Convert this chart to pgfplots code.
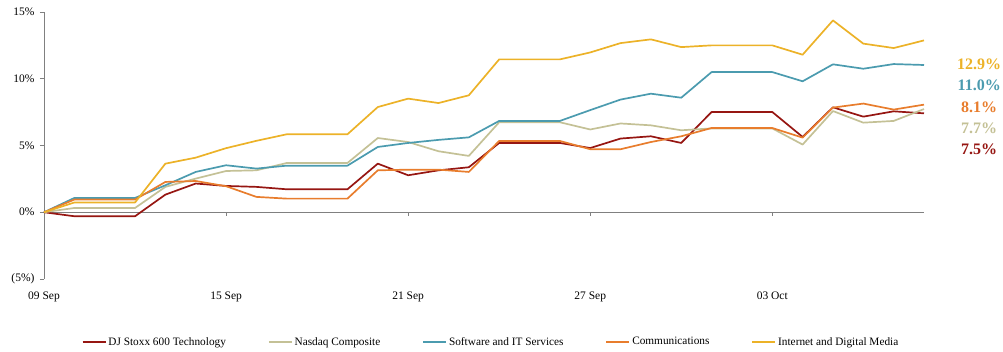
\documentclass[border=0pt]{standalone}
\usepackage{pgfplots}
\pgfplotsset{compat=1.18}
\usepackage{pgfplotstable}
\usepackage{fontspec}
\setmainfont{Liberation Serif}
\definecolor{cRed}{RGB}{150,22,18}
\definecolor{cNas}{RGB}{196,193,150}
\definecolor{cTeal}{RGB}{75,155,175}
\definecolor{cOrg}{RGB}{232,125,45}
\definecolor{cYel}{RGB}{236,178,40}
\definecolor{cAx}{RGB}{128,128,128}
\pgfplotstableread{
x red nas teal org yel
0 0 0 0 0 0
1 -0.30 0.32 1.07 0.95 0.73
2 -0.30 0.32 1.07 0.95 0.73
3 -0.30 0.32 1.07 0.95 0.73
4 1.32 1.90 2.02 2.27 3.64
5 2.15 2.52 3.02 2.34 4.09
6 1.97 3.09 3.52 1.95 4.80
7 1.90 3.14 3.27 1.15 5.35
8 1.72 3.69 3.49 1.02 5.84
9 1.72 3.69 3.49 1.02 5.84
10 1.72 3.69 3.49 1.02 5.84
11 3.64 5.56 4.89 3.14 7.88
12 2.77 5.26 5.19 3.19 8.51
13 3.14 4.57 5.42 3.19 8.18
14 3.37 4.22 5.61 3.02 8.76
15 5.19 6.74 6.84 5.34 11.45
16 5.19 6.74 6.84 5.34 11.45
17 5.19 6.74 6.84 5.34 11.45
18 4.81 6.20 7.65 4.72 11.97
19 5.52 6.65 8.44 4.72 12.67
20 5.69 6.51 8.88 5.26 12.95
21 5.19 6.14 8.58 5.69 12.37
22 7.51 6.28 10.50 6.31 12.50
23 7.51 6.28 10.50 6.31 12.50
24 7.51 6.28 10.50 6.31 12.50
25 5.64 5.07 9.81 5.59 11.80
26 7.86 7.58 11.08 7.84 14.37
27 7.16 6.71 10.75 8.14 12.63
28 7.56 6.84 11.10 7.69 12.30
29 7.41 7.73 11.03 8.06 12.87
}\data
\begin{document}
\begin{tikzpicture}
\useasboundingbox (-44pt,-73pt) rectangle (959pt,279pt);
\begin{axis}[
  at={(0,0)}, anchor=south west,
  scale only axis, width=880pt, height=267pt,
  xmin=0, xmax=29, ymin=-5, ymax=15,
  clip=false,
  axis x line*=bottom, axis y line*=left,
  x axis line style={draw=none},
  y axis line style={draw=cAx, line width=0.8pt},
  xtick={0,6,12,18,24},
  xticklabels={09 Sep,15 Sep,21 Sep,27 Sep,03 Oct},
  xtick style={draw=none},
  xticklabel style={font=\fontsize{11.5}{13}\selectfont, yshift=-5pt},
  ytick={-5,0,5,10,15},
  yticklabels={(5\%),0\%,5\%,10\%,15\%},
  yticklabel style={font=\fontsize{11.5}{13}\selectfont, xshift=-2pt},
  ytick style={draw=cAx, line width=0.8pt},
  tick align=outside, major tick length=4pt,
  legend columns=5,
  legend style={draw=none, at={(axis description cs:0.508,0)}, anchor=north, yshift=-54pt,
    font=\fontsize{11.3}{12}\selectfont, column sep=0pt},
  legend cell align=left,
  /tikz/every even column/.append style={column sep=40pt},
  legend image code/.code={\draw[#1] (0pt,0pt) -- (23pt,0pt);},
  every axis plot/.append style={line width=1.7pt, line join=round},
]
\draw[cAx, line width=0.8pt] (axis cs:0,0) -- (axis cs:29,0);
\draw[cAx, line width=0.8pt] (axis cs:6,0) -- ([yshift=-4pt]axis cs:6,0);
\draw[cAx, line width=0.8pt] (axis cs:12,0) -- ([yshift=-4pt]axis cs:12,0);
\draw[cAx, line width=0.8pt] (axis cs:18,0) -- ([yshift=-4pt]axis cs:18,0);
\draw[cAx, line width=0.8pt] (axis cs:24,0) -- ([yshift=-4pt]axis cs:24,0);
\addplot[cRed] table[x=x,y=red] {\data};
\addlegendentry{DJ Stoxx 600 Technology}
\addplot[cNas] table[x=x,y=nas] {\data};
\addlegendentry{Nasdaq Composite}
\addplot[cTeal] table[x=x,y=teal] {\data};
\addlegendentry{Software and IT Services}
\addplot[cOrg] table[x=x,y=org] {\data};
\addlegendentry{Communications}
\addplot[cYel] table[x=x,y=yel] {\data};
\addlegendentry{Internet and Digital Media}
\node[text=cYel, font=\fontsize{16}{18}\selectfont\bfseries] at (axis cs:30.82,11.1) {12.9\%};
\node[text=cTeal, font=\fontsize{16}{18}\selectfont\bfseries] at (axis cs:30.82,9.51) {11.0\%};
\node[text=cOrg, font=\fontsize{16}{18}\selectfont\bfseries] at (axis cs:30.82,7.86) {8.1\%};
\node[text=cNas, font=\fontsize{16}{18}\selectfont\bfseries] at (axis cs:30.82,6.29) {7.7\%};
\node[text=cRed, font=\fontsize{16}{18}\selectfont\bfseries] at (axis cs:30.82,4.72) {7.5\%};
\end{axis}
\end{tikzpicture}
\end{document}
